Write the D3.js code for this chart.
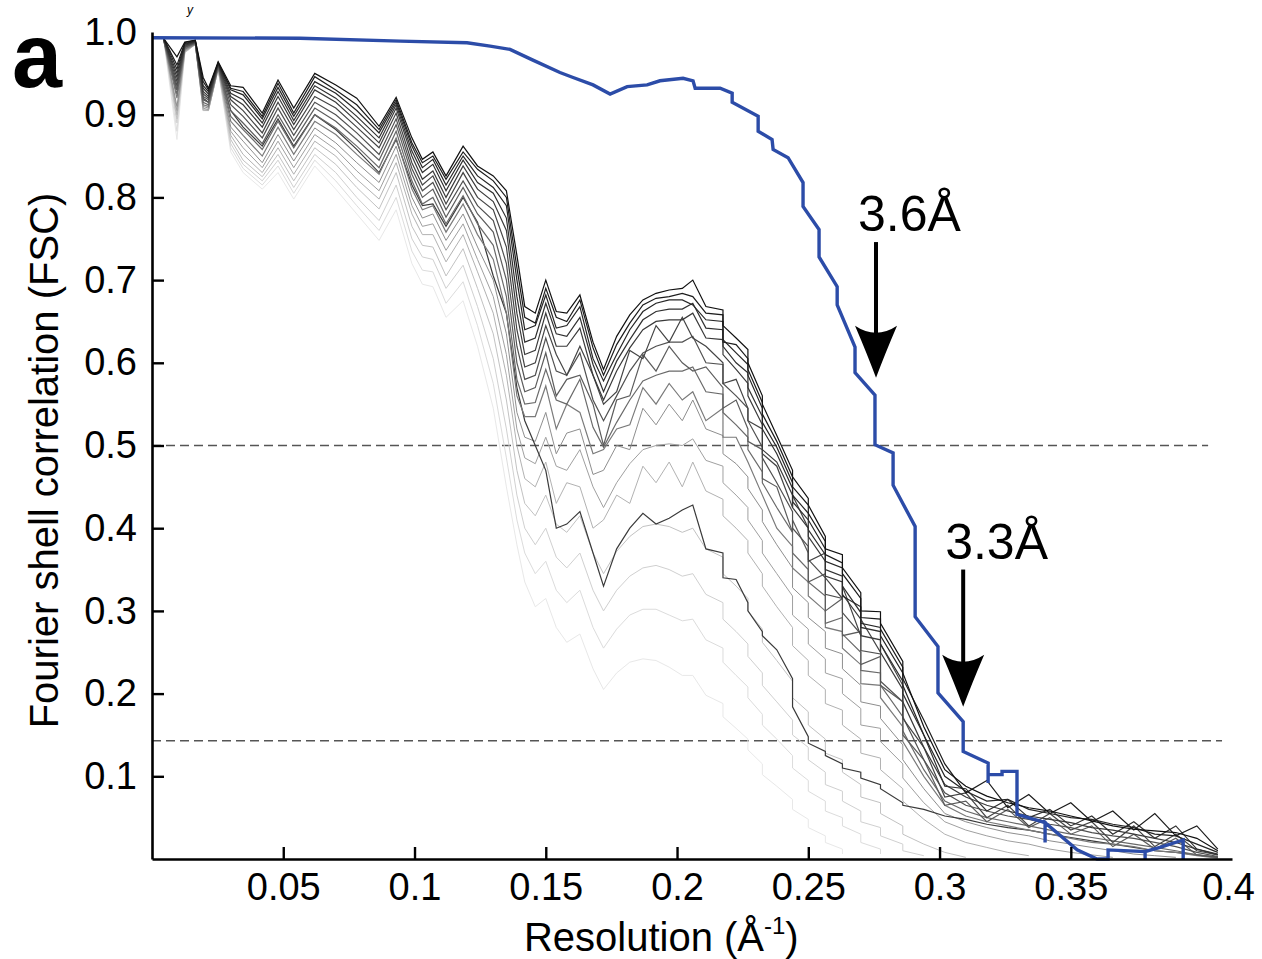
<!DOCTYPE html>
<html><head><meta charset="utf-8">
<script src="https://cdn.jsdelivr.net/npm/d3@7"></script>
<style>
body{margin:0;background:#fff}
svg{display:block}
text{font-family:"Liberation Sans",Arial,Helvetica,sans-serif;fill:#000}
</style>
</head><body>
<svg id="chart" width="1262" height="959"></svg>
<script>
// ---------- data ----------
const xTicks = [0.05,0.1,0.15,0.2,0.25,0.3,0.35,0.4];
const xTickLabels = ["0.05","0.1","0.15","0.2","0.25","0.3","0.35","0.4"];
const yTicks = [0.1,0.2,0.3,0.4,0.5,0.6,0.7,0.8,0.9,1.0];
const yTickLabels = ["0.1","0.2","0.3","0.4","0.5","0.6","0.7","0.8","0.9","1.0"];

// shell resolutions (1/Å) shared by the subset FSC curves (repeated values = step shells)
const shellRes = [.0045,.0095,.0125,.0165,.0195,.0215,.0252,.0300,.0347,.0420,
 .0480,.0540,.0620,.0700,.0780,.0865,.0930,.0990,.1030,.1070,
 .1120,.1185,.1240,.1300,.1350,.1390,.1420,.1460,.1500,.1540,
 .1580,.1630,.1680,.1720,.1770,.1820,.1870,.1920,.1970,.2020,
 .2060,.2110,.2175,.2175,.2225,.2270,.2270,.2325,.2325,.2380,
 .2440,.2440,.2500,.2500,.2565,.2565,.2630,.2630,.2700,.2700,
 .2775,.2775,.2860,.2860,.2940,.3020,.3100,.3180,.3260,.3340,
 .3420,.3500,.3580,.3660,.3740,.3820,.3900,.3980,.4060];

const subset00 = [.992,.970,.988,.990,.945,.932,.964,.935,.933,.902,.942,.908,.950,.936,.920,.886,.921,.872,.846,.855,.826,.862,.838,.826,.808,.730,.668,.660,.700,.662,.660,.682,.625,.592,.632,.658,.676,.684,.688,.690,.700,.668,.664,.645,.630,.616,.600,.560,.550,.512,.470,.462,.436,.428,.390,.375,.368,.352,.322,.300,.299,.285,.239,.225,.160,.108,.088,.076,.068,.062,.058,.052,.046,.040,.036,.034,.032,.025,.010];
const subset01 = [.992,.960,.987,.990,.940,.930,.963,.932,.928,.898,.938,.902,.946,.930,.912,.882,.918,.866,.842,.850,.822,.855,.834,.820,.800,.715,.655,.648,.690,.655,.650,.676,.618,.585,.622,.648,.670,.678,.680,.684,.680,.660,.658,.625,.622,.605,.592,.552,.538,.505,.462,.450,.428,.418,.384,.368,.358,.345,.315,.292,.290,.278,.232,.218,.168,.115,.080,.095,.062,.078,.055,.068,.045,.058,.035,.055,.028,.040,.012];
const subset02 = [.992,.955,.986,.989,.935,.928,.962,.930,.924,.895,.933,.898,.940,.926,.905,.878,.915,.862,.836,.846,.815,.850,.826,.812,.790,.700,.640,.645,.682,.642,.645,.668,.605,.578,.610,.640,.662,.672,.676,.676,.670,.652,.650,.628,.612,.598,.585,.545,.528,.498,.455,.440,.418,.410,.375,.360,.352,.318,.305,.285,.280,.270,.225,.210,.150,.100,.082,.070,.072,.060,.055,.050,.048,.042,.038,.030,.028,.018,.008];
const subset03 = [.991,.950,.985,.989,.932,.925,.962,.926,.918,.890,.928,.893,.935,.920,.898,.872,.912,.856,.830,.840,.808,.845,.818,.805,.775,.680,.625,.630,.672,.635,.632,.655,.598,.565,.602,.628,.652,.662,.665,.665,.672,.642,.640,.620,.600,.588,.570,.535,.520,.490,.448,.432,.410,.398,.368,.350,.342,.330,.298,.280,.275,.260,.215,.200,.150,.088,.085,.058,.072,.050,.060,.040,.052,.030,.045,.025,.040,.012,.006];
const subset04 = [.991,.945,.984,.988,.928,.922,.961,.922,.912,.885,.922,.888,.930,.915,.892,.866,.908,.850,.822,.832,.800,.838,.810,.795,.760,.660,.610,.615,.660,.620,.620,.642,.585,.555,.590,.618,.640,.650,.652,.652,.660,.630,.628,.610,.592,.575,.560,.525,.495,.480,.440,.425,.400,.390,.360,.342,.335,.320,.290,.270,.265,.250,.205,.190,.135,.090,.075,.065,.058,.052,.048,.044,.038,.035,.030,.025,.020,.012,.005];
const subset05 = [.991,.940,.983,.988,.925,.920,.960,.918,.905,.878,.915,.882,.922,.908,.885,.860,.902,.842,.815,.826,.792,.830,.800,.785,.740,.640,.595,.600,.645,.610,.585,.620,.585,.550,.565,.615,.605,.645,.625,.655,.630,.620,.600,.575,.580,.545,.530,.520,.490,.475,.425,.440,.400,.360,.370,.340,.315,.330,.270,.290,.250,.260,.210,.170,.135,.075,.080,.050,.065,.040,.055,.035,.045,.020,.040,.015,.030,.010,.005];
const subset06 = [.991,.935,.982,.987,.922,.918,.960,.912,.898,.872,.908,.875,.915,.900,.878,.852,.895,.835,.808,.818,.785,.820,.790,.772,.720,.620,.580,.585,.630,.590,.585,.612,.555,.530,.560,.590,.612,.620,.625,.625,.632,.600,.598,.575,.560,.545,.530,.498,.485,.455,.420,.400,.378,.362,.340,.320,.315,.298,.272,.252,.248,.215,.190,.172,.120,.080,.065,.058,.052,.048,.042,.038,.032,.028,.025,.020,.015,.008,.003];
const subset07 = [.990,.930,.981,.987,.918,.915,.959,.905,.890,.865,.900,.868,.908,.892,.870,.845,.888,.828,.800,.810,.776,.812,.780,.758,.700,.600,.565,.570,.612,.560,.580,.585,.550,.500,.555,.560,.610,.590,.620,.600,.590,.595,.570,.545,.555,.520,.505,.495,.460,.450,.395,.410,.370,.335,.345,.300,.315,.270,.275,.235,.245,.210,.190,.150,.120,.065,.070,.045,.060,.038,.050,.030,.040,.015,.030,.012,.025,.005,.002];
const subset08 = [.990,.925,.980,.986,.915,.912,.958,.898,.882,.858,.892,.860,.900,.884,.862,.836,.880,.820,.792,.800,.768,.802,.768,.742,.680,.580,.550,.552,.592,.555,.550,.580,.522,.498,.528,.555,.578,.585,.590,.590,.595,.565,.562,.540,.525,.510,.495,.468,.455,.425,.395,.370,.350,.335,.318,.285,.292,.272,.250,.228,.225,.210,.172,.155,.108,.070,.058,.050,.045,.040,.035,.030,.026,.022,.018,.014,.010,.005,.002];
const subset09 = [.990,.920,.979,.986,.912,.910,.958,.892,.875,.850,.885,.852,.892,.876,.852,.828,.872,.810,.785,.790,.758,.792,.755,.725,.660,.560,.535,.535,.572,.520,.550,.540,.490,.495,.520,.525,.570,.550,.575,.555,.565,.530,.545,.510,.510,.480,.480,.440,.440,.400,.378,.352,.335,.318,.300,.280,.275,.255,.235,.212,.210,.195,.160,.142,.100,.065,.052,.045,.040,.035,.030,.025,.020,.018,.015,.010,.008,.004,.001];
const subset10 = [.990,.930,.982,.987,.920,.915,.958,.905,.885,.862,.895,.862,.900,.882,.858,.830,.870,.815,.790,.792,.765,.800,.770,.705,.660,.570,.530,.500,.470,.400,.405,.420,.370,.330,.375,.400,.418,.405,.412,.422,.428,.375,.370,.340,.338,.310,.300,.275,.270,.253,.218,.184,.148,.140,.130,.125,.115,.110,.105,.098,.090,.085,.068,.065,.060,.052,.048,.042,.038,.035,.030,.026,.022,.018,.014,.010,.008,.005,.002];
const subset11 = [.990,.910,.978,.985,.910,.908,.957,.885,.868,.842,.876,.844,.884,.866,.842,.818,.862,.800,.775,.780,.748,.780,.740,.700,.635,.540,.510,.505,.540,.490,.515,.520,.465,.470,.500,.495,.545,.525,.550,.530,.555,.520,.512,.490,.478,.462,.448,.422,.408,.380,.352,.328,.310,.292,.275,.255,.248,.230,.210,.190,.185,.170,.138,.120,.085,.055,.045,.038,.032,.028,.022,.018,.014,.010,.006,.004,.002];
const subset12 = [.990,.905,.977,.985,.908,.906,.956,.880,.860,.836,.868,.836,.876,.858,.832,.808,.852,.790,.765,.768,.736,.768,.725,.680,.610,.520,.485,.478,.510,.475,.470,.495,.450,.425,.455,.478,.495,.500,.502,.500,.508,.482,.475,.455,.440,.425,.410,.385,.370,.345,.318,.295,.278,.260,.242,.225,.218,.200,.182,.162,.158,.142,.115,.098,.068,.045,.035,.028,.022,.018,.012,.008,.005,.002];
const subset13 = [.990,.900,.976,.985,.906,.905,.955,.875,.852,.830,.860,.828,.868,.850,.822,.798,.842,.780,.755,.755,.722,.755,.710,.660,.585,.500,.460,.450,.480,.430,.455,.450,.400,.410,.440,.430,.475,.455,.480,.450,.480,.445,.435,.415,.400,.385,.370,.345,.330,.305,.280,.258,.240,.222,.205,.188,.180,.162,.145,.128,.122,.108,.085,.070,.048,.030,.020,.014,.008,.004];
const subset14 = [.990,.895,.976,.985,.905,.905,.955,.870,.845,.825,.852,.820,.860,.840,.812,.786,.830,.765,.742,.740,.705,.738,.690,.635,.555,.470,.430,.415,.440,.405,.395,.415,.370,.345,.372,.390,.402,.405,.402,.395,.400,.375,.365,.345,.330,.315,.300,.278,.262,.240,.215,.195,.178,.162,.145,.128,.120,.105,.090,.075,.068,.055,.040,.030,.018,.008,.002];
const subset15 = [.990,.890,.975,.985,.905,.906,.955,.865,.840,.820,.845,.812,.852,.830,.800,.772,.815,.750,.728,.725,.690,.718,.668,.605,.520,.440,.400,.380,.400,.365,.352,.370,.325,.300,.325,.342,.352,.355,.350,.342,.345,.320,.310,.290,.275,.260,.245,.225,.210,.190,.168,.150,.135,.120,.105,.090,.082,.070,.058,.045,.038,.028,.018,.010,.004];
const subset16 = [.990,.880,.975,.985,.905,.907,.955,.860,.835,.815,.838,.805,.845,.820,.790,.760,.800,.735,.712,.710,.672,.698,.645,.575,.485,.410,.370,.345,.360,.325,.310,.325,.280,.255,.278,.295,.302,.302,.295,.288,.290,.265,.255,.238,.222,.208,.195,.175,.162,.145,.125,.110,.095,.082,.070,.058,.050,.040,.030,.020,.012,.006];
const subset17 = [.990,.870,.975,.985,.905,.908,.955,.855,.830,.810,.830,.798,.838,.810,.780,.748,.785,.720,.695,.692,.655,.675,.620,.545,.450,.380,.335,.305,.315,.280,.262,.272,.230,.205,.225,.238,.242,.240,.232,.222,.222,.198,.188,.172,.158,.145,.132,.115,.102,.088,.072,.060,.048,.038,.028,.020,.012,.006];

const subsetCurves = [subset00,subset01,subset02,subset03,subset04,subset05,subset06,subset07,subset08,subset09,
                      subset10,subset11,subset12,subset13,subset14,subset15,subset16,subset17];
const subsetShades = ["#111111","#1c1c1c","#262626","#303030","#3a3a3a","#444444","#505050","#5c5c5c","#6a6a6a","#7a7a7a",
                      "#3a3a3a","#8e8e8e","#a0a0a0","#b2b2b2","#c2c2c2","#d0d0d0","#dcdcdc","#e8e8e8"];

// full-map FSC (blue)
const mapRes = [0,0.0564,0.0945,0.12,0.1288,0.1364,0.1451,0.1554,0.1604,0.168,
 0.1745,0.181,0.1886,0.1935,0.2023,0.2061,0.2069,0.2164,0.221,0.221,
 0.2309,0.2309,0.2362,0.2366,0.2423,0.248,0.248,0.2541,0.2541,0.261,
 0.261,0.2678,0.2678,0.2754,0.2754,0.2823,0.2823,0.2907,0.2907,0.2994,
 0.2994,0.309,0.309,0.3185,0.3185,0.3185,0.3238,0.3238,0.3295,0.3295,
 0.3402,0.3402,0.3402,0.3524,0.36,0.3642,0.3642,0.3783,0.3783,0.3783,
 0.384,0.3928,0.3928];
const mapFSC = [0.993,0.9925,0.989,0.987,0.983,0.979,0.966,0.951,0.945,0.936,
 0.925,0.934,0.936,0.941,0.944,0.941,0.932,0.932,0.926,0.915,
 0.898,0.880,0.870,0.858,0.848,0.818,0.789,0.761,0.728,0.692,
 0.670,0.619,0.588,0.561,0.501,0.491,0.452,0.402,0.293,0.257,
 0.201,0.166,0.130,0.116,0.092,0.102,0.102,0.106,0.106,0.054,
 0.044,0.020,0.044,0.011,0.0,0.0,0.011,0.009,0.0,0.009,
 0.014,0.023,0.0];

// FSC thresholds (dashed)
const thresholdFSC = [0.5, 0.143];
const thresholdEndRes = [0.4023, 0.4076];

// resolution annotations
const arrowLabels = ["3.6Å","3.3Å"];
const arrowRes = [0.2758, 0.3090];
const arrowTipFSC = [0.582, 0.184];
const arrowTailFSC = [0.746, 0.350];
const arrowLabelFSC = [0.759, 0.363];

// ---------- drawing ----------
const svg = d3.select("#chart");
svg.append("rect").attr("width",1262).attr("height",959).attr("fill","#fff");

const x = d3.scaleLinear().domain([0, 0.4114]).range([152, 1232]);
const y = d3.scaleLinear().domain([0, 1]).range([859, 32]);

// threshold lines
svg.append("g").selectAll("line").data(thresholdFSC).join("line")
  .attr("x1", x(0)).attr("x2", (d,i)=>x(thresholdEndRes[i]))
  .attr("y1", d=>y(d)).attr("y2", d=>y(d))
  .attr("stroke","#555").attr("stroke-width",1.5).attr("stroke-dasharray","9,5");

// subset curves (lightest first)
const line = d3.line().x(d=>x(d[0])).y(d=>y(d[1]));
const order = d3.range(subsetCurves.length).reverse();
svg.append("g").selectAll("path").data(order).join("path")
  .attr("d", k => line(subsetCurves[k].map((v,i)=>[shellRes[i], v])))
  .attr("fill","none")
  .attr("stroke", k => subsetShades[k])
  .attr("stroke-width", k => k<11 ? 1.2 : 1.0)
  .attr("stroke-linejoin","miter");

// blue full-map curve
svg.append("path")
  .attr("d", line(mapRes.map((r,i)=>[r, mapFSC[i]])))
  .attr("fill","none").attr("stroke","#2c4ca8").attr("stroke-width",3.4)
  .attr("stroke-linejoin","miter");

// axes
const xAxis = d3.axisBottom(x).tickValues(xTicks).tickSize(-12).tickSizeOuter(0).tickPadding(14)
  .tickFormat((d,i)=>xTickLabels[i]);
const gx = svg.append("g").attr("transform",`translate(0,${y(0)})`).call(xAxis);
const yAxis = d3.axisLeft(y).tickValues(yTicks).tickSize(-12).tickSizeOuter(0).tickPadding(15)
  .tickFormat((d,i)=>yTickLabels[i]);
const gy = svg.append("g").attr("transform",`translate(${x(0)},0)`).call(yAxis);
[gx,gy].forEach(g=>{
  g.select(".domain").attr("stroke","#000").attr("stroke-width",2.6);
  g.selectAll(".tick line").attr("stroke","#000").attr("stroke-width",2.4);
  g.selectAll(".tick text").attr("font-size",38).attr("font-family","Liberation Sans, Arial, sans-serif").attr("fill","#000");
});
gy.selectAll(".tick").filter(d=>d===1.0).select("line").remove();
gx.selectAll(".tick").filter(d=>d===0.4).select("line").remove();
gx.selectAll(".tick").filter(d=>d===0.4).select("text").attr("dx", 26);

// axis titles
svg.append("text").attr("transform",`translate(58,${(y(0)+y(1))/2+15}) rotate(-90)`)
  .attr("text-anchor","middle").attr("font-size",40).text("Fourier shell correlation (FSC)");
const xt = svg.append("text").attr("x", x(0.194)).attr("y", 951).attr("text-anchor","middle").attr("font-size",40);
xt.append("tspan").text("Resolution (Å");
xt.append("tspan").attr("dy",-17).attr("font-size",24).text("-1");
xt.append("tspan").attr("dy",17).text(")");

// panel label
svg.append("text").attr("x",12).attr("y",87).attr("font-size",90).attr("font-weight","bold").text("a");
// small caption fragment at the very top
svg.append("text").attr("x",187).attr("y",14).attr("font-size",12)
  .attr("font-family","Liberation Serif, serif").attr("font-style","italic").text("y");

// arrows + labels
const ann = svg.append("g");
arrowLabels.forEach((lab,i)=>{
  const ax = x(arrowRes[i]), tipY = y(arrowTipFSC[i]), tailY = y(arrowTailFSC[i]);
  ann.append("line").attr("x1",ax).attr("x2",ax).attr("y1",tailY).attr("y2",tipY-36)
    .attr("stroke","#000").attr("stroke-width",4);
  ann.append("path")
    .attr("d",`M${ax},${tipY} Q${ax-9},${tipY-24} ${ax-21},${tipY-52} Q${ax},${tipY-38} ${ax+21},${tipY-52} Q${ax+9},${tipY-24} ${ax},${tipY} Z`)
    .attr("fill","#000");
  ann.append("text").attr("x",ax-18).attr("y",y(arrowLabelFSC[i])).attr("font-size",50).text(lab);
});
</script>
</body></html>
